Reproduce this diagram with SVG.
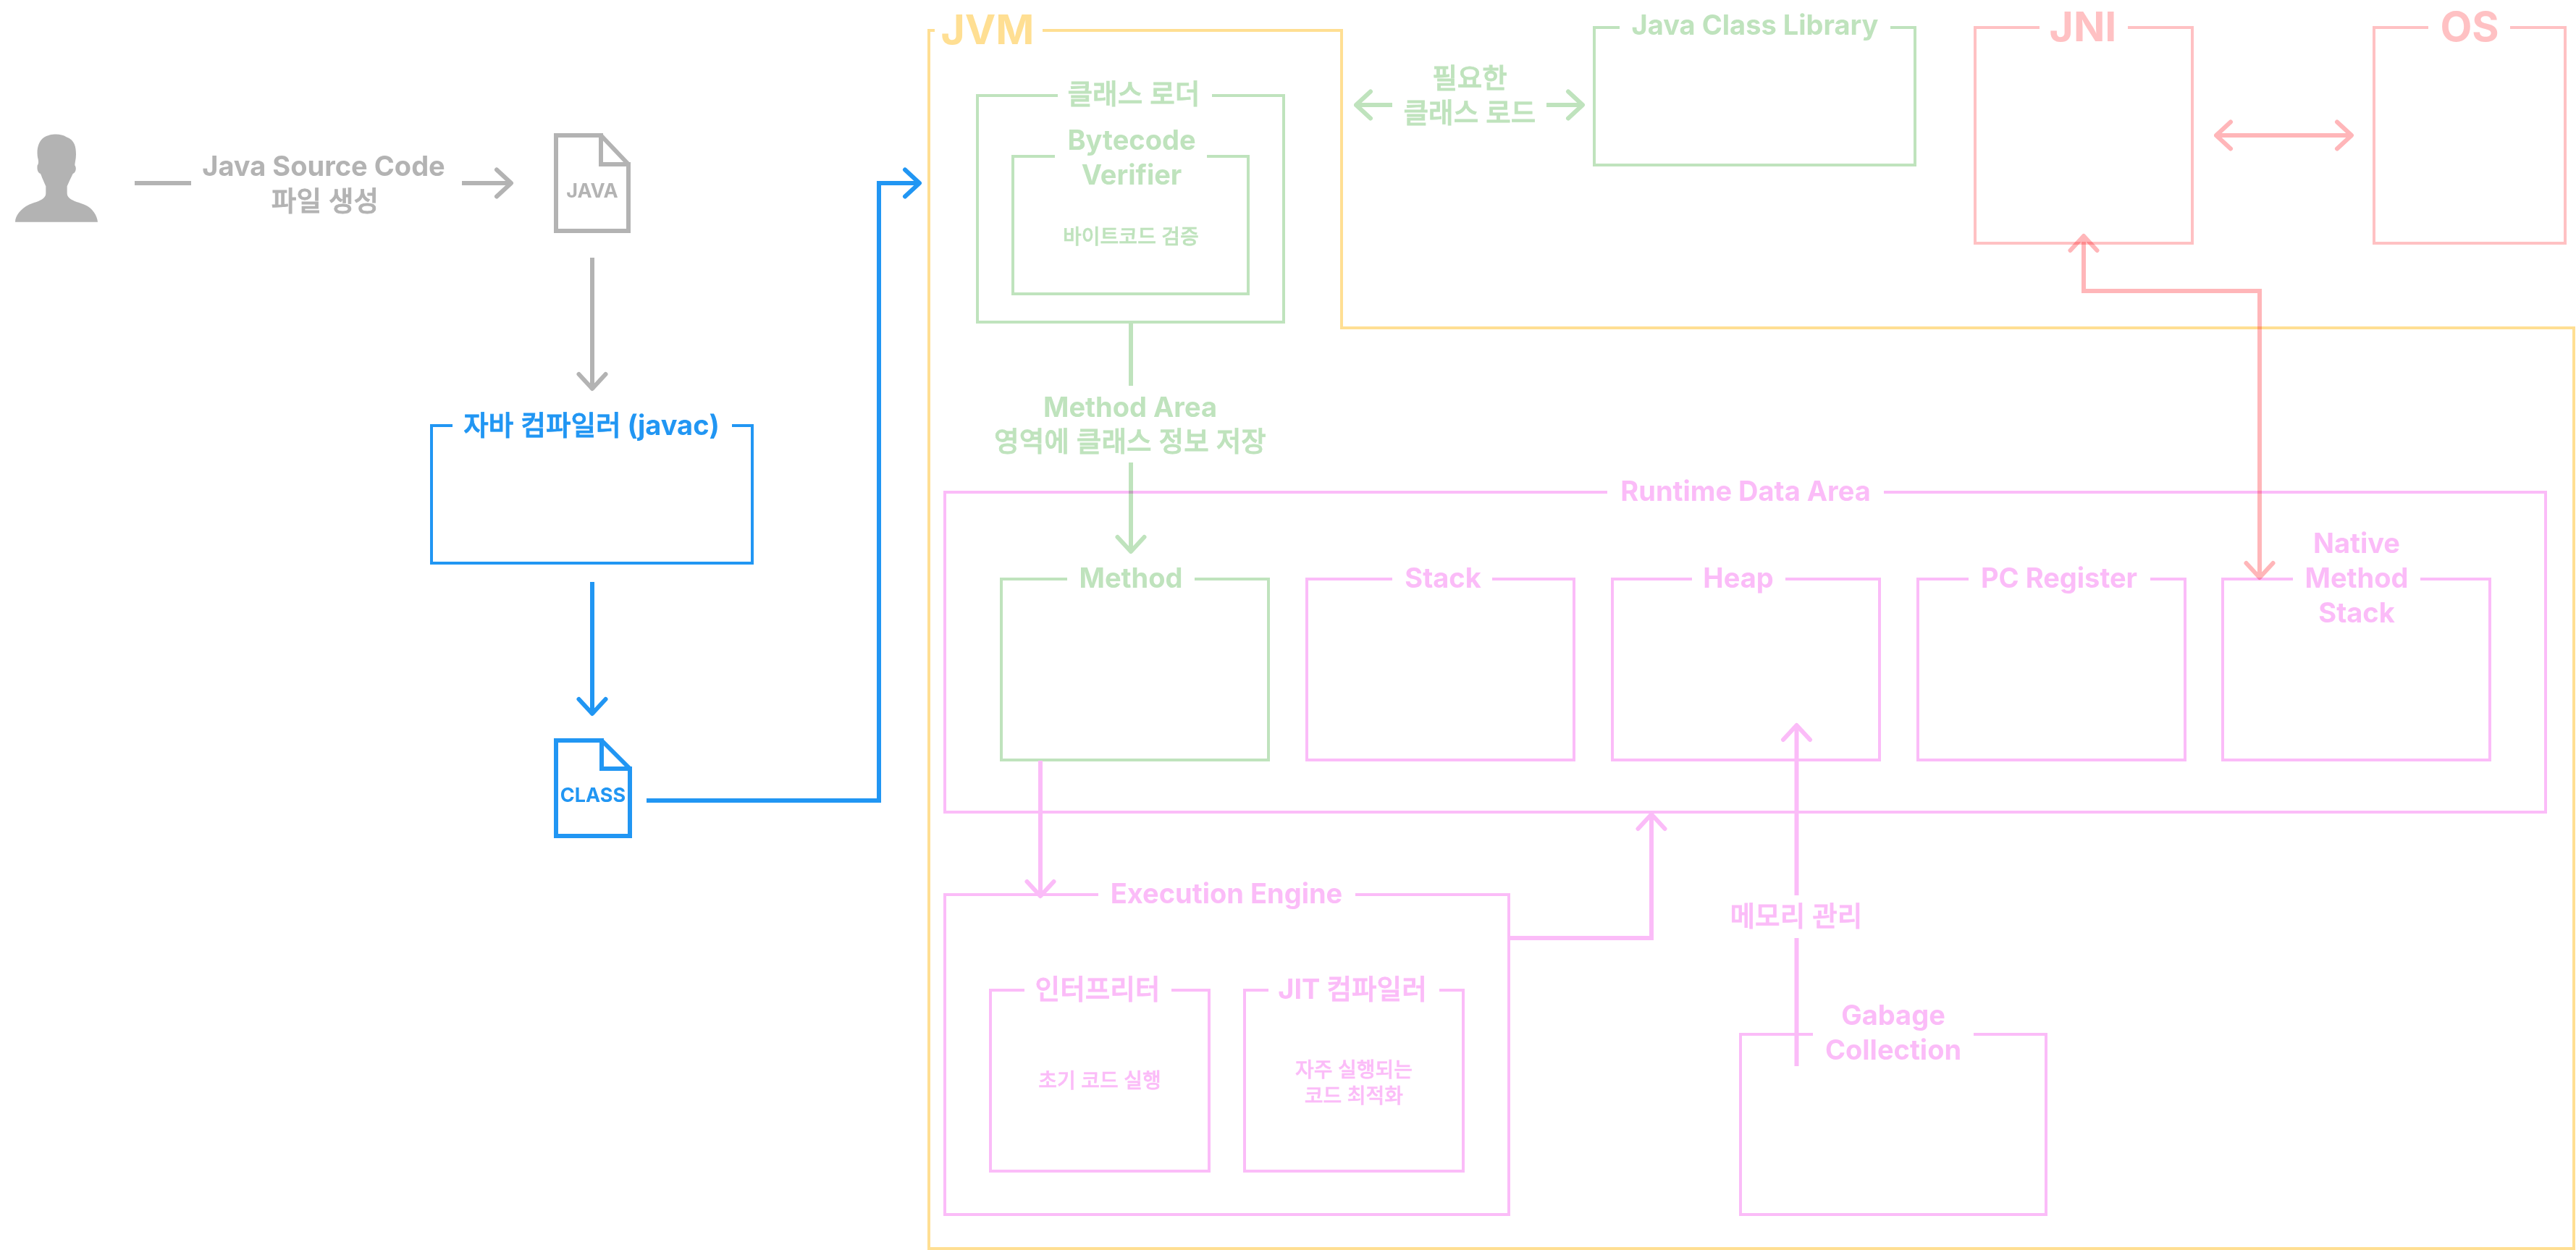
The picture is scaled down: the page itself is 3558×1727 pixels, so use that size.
<svg xmlns="http://www.w3.org/2000/svg" width="3558" height="1727" viewBox="0 0 3558 1727">
<style>
text{font-family:Inter,"Noto Sans CJK KR","Noto Sans",sans-serif;font-weight:700;text-anchor:middle;font-size:38px}
.k{font-weight:500;font-size:37.6px;stroke-width:.8}
.xl{font-size:57px;font-weight:700}
.s{font-size:28px;font-weight:500;stroke-width:.5}
.doc{font-size:27px;font-weight:700}
.box{fill:none;stroke-width:4}
.line{fill:none;stroke-width:6}
.grey{fill:#b3b3b3}.blue{fill:#2196f3}.green{fill:#bfe3bd}.pink{fill:#fbbcf8}.red{fill:#ffc1c3}.yellow{fill:#ffdf93}
.k.grey{stroke:#b3b3b3}.k.blue,.s.blue{stroke:#2196f3}.k.green,.s.green{stroke:#bfe3bd}.k.pink,.s.pink{stroke:#fbbcf8}
.box.blue,.line.blue{fill:none;stroke:#2196f3}
.box.green,.line.green{fill:none;stroke:#bfe3bd}
.box.pink,.line.pink{fill:none;stroke:#fbbcf8}
.box.red{fill:none;stroke:#ffc1c3}
.box.yellow{fill:none;stroke:#ffdf93}
.line.grey{fill:none;stroke:#b3b3b3}
.line.redl{stroke:#ffb6b9;mix-blend-mode:multiply}
.line.green{mix-blend-mode:multiply}
</style>
<defs>
<marker id="hg" markerUnits="userSpaceOnUse" markerWidth="60" markerHeight="60" refX="30" refY="30" orient="auto-start-reverse"><path d="M10,11.5L30,30L10,48.5" fill="none" stroke="#b3b3b3" stroke-width="6" stroke-linecap="round" stroke-linejoin="round"/></marker>
<marker id="hb" markerUnits="userSpaceOnUse" markerWidth="60" markerHeight="60" refX="30" refY="30" orient="auto-start-reverse"><path d="M10,11.5L30,30L10,48.5" fill="none" stroke="#2196f3" stroke-width="6" stroke-linecap="round" stroke-linejoin="round"/></marker>
<marker id="hn" markerUnits="userSpaceOnUse" markerWidth="60" markerHeight="60" refX="30" refY="30" orient="auto-start-reverse"><path d="M10,11.5L30,30L10,48.5" fill="none" stroke="#bfe3bd" stroke-width="6" stroke-linecap="round" stroke-linejoin="round"/></marker>
<marker id="hp" markerUnits="userSpaceOnUse" markerWidth="60" markerHeight="60" refX="30" refY="30" orient="auto-start-reverse"><path d="M10,11.5L30,30L10,48.5" fill="none" stroke="#fbbcf8" stroke-width="6" stroke-linecap="round" stroke-linejoin="round"/></marker>
<marker id="hr" markerUnits="userSpaceOnUse" markerWidth="60" markerHeight="60" refX="30" refY="30" orient="auto-start-reverse"><path d="M10,11.5L30,30L10,48.5" fill="none" stroke="#ffb6b9" stroke-width="6" stroke-linecap="round" stroke-linejoin="round"/></marker>
</defs>
<rect width="3558" height="1727" fill="#fff"/>
<g id="jvm"><path class="box yellow" d="M1291,42H1283V1725H3555V453H1853V42H1440"/><text class="xl yellow" x="1364" y="61">JVM</text></g>
<g id="user"><path class="grey" transform="translate(0 170) scale(.3333)" d="M63,410C63,385 85,355 120,338C150,325 190,320 190,290L190,262C180,240 172,220 168,210C155,205 153,190 155,175C160,170 160,160 158,150C150,120 155,75 185,58C205,45 250,40 275,58C310,70 315,100 315,130C315,150 310,165 310,175C318,185 315,205 302,210C295,225 285,245 278,262L278,290C278,320 320,325 350,338C385,352 403,385 405,410Z"/></g>
<g id="java-file"><path class="line grey" d="M768,187H830V227H868V319H768ZM830,187L868,227"/><text class="doc grey" x="818" y="273">JAVA</text></g>
<g id="javac"><path class="box blue" d="M625,588H596V778H1039V588H1011"/><text class="blue" x="817" y="601"><tspan class="k blue">자바 컴파일러</tspan> (javac)</text></g>
<g id="class-file"><path class="line blue" d="M768,1023H831V1062H870V1155H768ZM831,1023L870,1062"/><text class="doc blue" x="819" y="1108">CLASS</text></g>
<g id="class-loader"><path class="box green" d="M1461,132H1350V445H1773V132H1674"/><text class="k green" x="1566" y="143">클래스 로더</text></g>
<g id="bytecode-verifier"><path class="box green" d="M1457,216H1399V406H1724V216H1667"/><text class="green" x="1563" y="207">Bytecode</text><text class="green" x="1563" y="255">Verifier</text><text class="s green" x="1562" y="337">바이트코드 검증</text></g>
<g id="java-class-library"><path class="box green" d="M2237,38H2202V228H2645V38H2611"/><text class="green" x="2424" y="48">Java Class Library</text></g>
<g id="jni"><path class="box red" d="M2817,38H2728V336H3028V38H2939"/><text class="xl red" x="2877" y="57">JNI</text></g>
<g id="os"><path class="box red" d="M3354,38H3279V336H3543V38H3467"/><text class="xl red" x="3411" y="57">OS</text></g>
<g id="runtime-data-area"><path class="box pink" d="M2220,680H1305V1122H3516V680H2602"/><text class="pink" x="2411" y="692">Runtime Data Area</text></g>
<g id="method"><path class="box green" d="M1474,800H1383V1050H1752V800H1650"/><text class="green" x="1562" y="812">Method</text></g>
<g id="stack"><path class="box pink" d="M1923,800H1805V1050H2174V800H2061"/><text class="pink" x="1993" y="812">Stack</text></g>
<g id="heap"><path class="box pink" d="M2337,800H2227V1050H2596V800H2466"/><text class="pink" x="2401" y="812">Heap</text></g>
<g id="pc-register"><path class="box pink" d="M2719,800H2649V1050H3018V800H2970"/><text class="pink" x="2844" y="812">PC Register</text></g>
<g id="native-method-stack"><path class="box pink" d="M3167,800H3070V1050H3439V800H3343"/><text class="pink" x="3255" y="764">Native</text><text class="pink" x="3255" y="812">Method</text><text class="pink" x="3255" y="860">Stack</text></g>
<g id="execution-engine"><path class="box pink" d="M1517,1236H1305V1678H2084V1236H1872"/><text class="pink" x="1694" y="1248">Execution Engine</text></g>
<g id="interpreter"><path class="box pink" d="M1415,1368H1368V1618H1670V1368H1618"/><text class="k pink" x="1516" y="1380">인터프리터</text><text class="s pink" x="1519" y="1503">초기 코드 실행</text></g>
<g id="jit"><path class="box pink" d="M1752,1368H1719V1618H2021V1368H1988"/><text class="pink" x="1868" y="1380">JIT <tspan class="k pink">컴파일러</tspan></text><text class="s pink" x="1870" y="1488">자주 실행되는</text><text class="s pink" x="1870" y="1524">코드 최적화</text></g>
<g id="gc"><path class="box pink" d="M2504,1429H2404V1678H2826V1429H2726"/><text class="pink" x="2615" y="1416">Gabage</text><text class="pink" x="2615" y="1464">Collection</text></g>
<g id="connectors">
<path class="line grey" d="M186,253H264"/>
<text class="grey" x="447" y="243">Java Source Code</text><text class="k grey" x="449" y="291">파일 생성</text>
<path class="line grey" d="M638,253H706" marker-end="url(#hg)"/>
<path class="line grey" d="M818,356V537" marker-end="url(#hg)"/>
<path class="line blue" d="M818,804V986" marker-end="url(#hb)"/>
<path class="line blue" d="M893,1106H1214V253H1270" marker-end="url(#hb)"/>
<path class="line green" d="M1923,145H1873" marker-end="url(#hn)"/>
<path class="line green" d="M2136,145H2186" marker-end="url(#hn)"/>
<text class="k green" x="2030" y="121">필요한</text><text class="k green" x="2030" y="169">클래스 로드</text>
<path class="line green" d="M1562,447V533"/>
<text class="green" x="1561" y="576">Method Area</text><text class="k green" x="1561" y="623">영역에 클래스 정보 저장</text>
<path class="line green" d="M1562,639V762" marker-end="url(#hn)"/>
<path class="line redl" d="M3061,187H3248" marker-start="url(#hr)" marker-end="url(#hr)"/>
<path class="line redl" d="M3121,798V402H2878V326" marker-start="url(#hr)" marker-end="url(#hr)"/>
<path class="line pink" d="M1437,1051V1238" marker-end="url(#hp)"/>
<path class="line pink" d="M2086,1296H2281V1125" marker-end="url(#hp)"/>
<path class="line pink" d="M2481.5,1473V1296"/>
<path class="line pink" d="M2481.5,1237V1002" marker-end="url(#hp)"/>
<text class="k pink" x="2481" y="1279">메모리 관리</text>
</g>
</svg>
